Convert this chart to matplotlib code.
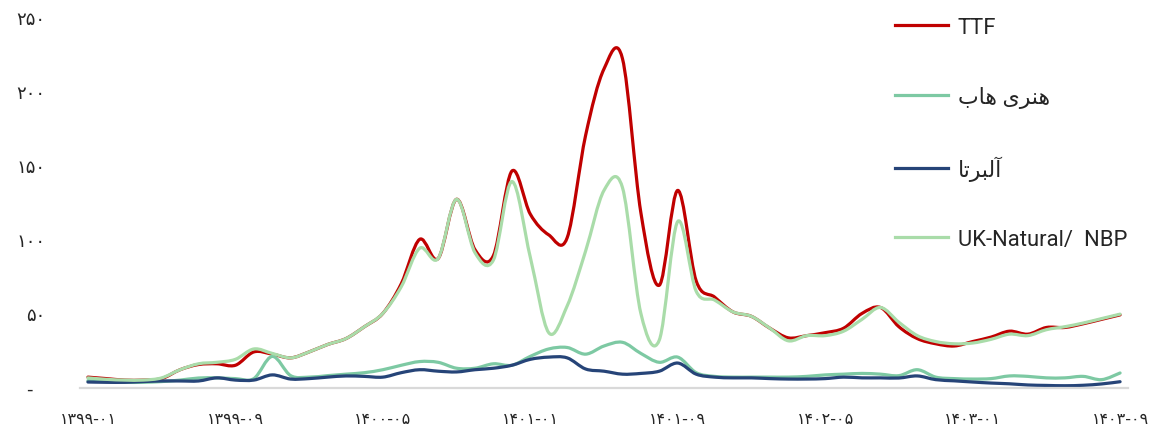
import numpy as np
import matplotlib.pyplot as plt
from matplotlib.path import Path
from matplotlib.patches import PathPatch
from matplotlib.lines import Line2D

# monthly prices, 1399-01 .. 1403-09 (57 months)
ttf = [7, 6, 5, 5, 6, 12, 15.5, 16, 15, 24, 22.5, 20, 24, 29, 33, 41, 50, 70, 100, 87,
       127, 93, 89, 146, 117, 103, 101, 170, 215, 222, 118, 69, 133, 72, 61, 51, 48, 40, 33.5, 35,
       37, 40, 50, 54, 41, 33, 29.5, 28, 31, 34, 38, 36, 40.5, 40.5, 43, 46, 49]
henry_hub = [4.6, 4, 3.5, 3.5, 4, 5, 6.4, 6.5, 6, 6, 21, 8, 7, 8, 9, 10, 12, 15, 17.5, 17,
             13, 13, 16, 15, 21, 26, 27, 22.5, 28, 30.5, 23, 17, 20.5, 10, 7.5, 7, 7, 7, 7, 7.5,
             8.5, 9, 9.5, 9, 8, 12, 7, 6, 5.7, 6, 7.8, 7.5, 6.5, 6.5, 7.5, 5.3, 9.8]
alberta = [3.7, 3.5, 3.5, 4, 4.4, 4.4, 4.4, 6.5, 5, 5, 8.5, 5.7, 6, 7, 7.8, 7.5, 7, 10, 12, 11,
           10.5, 12, 13, 15, 19, 20.5, 20, 12.5, 11, 9, 9.5, 11, 16.5, 9, 7, 6.5, 6.5, 6, 5.7, 5.7,
           6, 7, 6.5, 6.5, 6.4, 7.8, 5.3, 4.5, 3.7, 3, 2.5, 1.7, 1.4, 1.2, 1.5, 2.4, 3.9]
nbp = [6.5, 5.5, 5, 5, 6.5, 12, 16, 17, 19, 26, 23, 20, 24, 29, 33, 41, 50, 68, 94, 87,
       127, 91, 86, 139, 88, 37, 55, 92, 133, 135, 50, 32, 112, 65, 59, 51, 48, 40, 31.5, 35,
       35, 38, 46, 54, 44, 35, 31, 29.5, 30, 32.5, 36, 35, 39, 41, 43.5, 46.5, 49.5]

x_labels = ["۱۳۹۹-۰۱", "۱۳۹۹-۰۹", "۱۴۰۰-۰۵", "۱۴۰۱-۰۱", "۱۴۰۱-۰۹", "۱۴۰۲-۰۵", "۱۴۰۳-۰۱", "۱۴۰۳-۰۹"]
y_ticks = [0, 50, 100, 150, 200, 250]
y_labels = ["-  ", "۵۰", "۱۰۰", "۱۵۰", "۲۰۰", "۲۵۰"]

# (isolated, final, initial, medial) presentation forms for the letters used
FORMS = {
    "ا": ("\ufe8d", "\ufe8e", None, None),
    "آ": ("\ufe81", "\ufe82", None, None),
    "ر": ("\ufead", "\ufeae", None, None),
    "ب": ("\ufe8f", "\ufe90", "\ufe91", "\ufe92"),
    "ت": ("\ufe95", "\ufe96", "\ufe97", "\ufe98"),
    "ل": ("\ufedd", "\ufede", "\ufedf", "\ufee0"),
    "ن": ("\ufee5", "\ufee6", "\ufee7", "\ufee8"),
    "ه": ("\ufee9", "\ufeea", "\ufeeb", "\ufeec"),
    "ی": ("\ufbfc", "\ufbfd", "\ufbfe", "\ufbff"),
}


# matplotlib has no arabic shaping, so pick the joined forms and reverse
def shape(text):
    out = []
    for i, c in enumerate(text):
        if c not in FORMS:
            out.append(c)
            continue
        prev = text[i - 1] if i > 0 else ""
        nxt = text[i + 1] if i + 1 < len(text) else ""
        join_prev = prev in FORMS and FORMS[prev][2] is not None
        join_next = FORMS[c][2] is not None and nxt in FORMS
        if join_prev and join_next:
            out.append(FORMS[c][3])
        elif join_prev:
            out.append(FORMS[c][1])
        elif join_next:
            out.append(FORMS[c][2])
        else:
            out.append(FORMS[c][0])
    return "".join(out[::-1])


labels = ["TTF", shape("هنری هاب") + " ", shape("آلبرتا"), "UK-Natural/  NBP"]
colors = ["#C00000", "#7DC9A3", "#264478", "#A9DCA9"]


# excel style smoothed line as cubic bezier through the points
def smooth_path(y):
    y = np.asarray(y, dtype=float)
    x = np.arange(len(y), dtype=float)
    verts = [(x[0], y[0])]
    codes = [Path.MOVETO]
    n = len(y)
    for i in range(n - 1):
        x0, y0 = x[max(i - 1, 0)], y[max(i - 1, 0)]
        x3, y3 = x[min(i + 2, n - 1)], y[min(i + 2, n - 1)]
        c1 = (x[i] + (x[i + 1] - x0) / 6, y[i] + (y[i + 1] - y0) / 6)
        c2 = (x[i + 1] - (x3 - x[i]) / 6, y[i + 1] - (y3 - y[i]) / 6)
        verts += [c1, c2, (x[i + 1], y[i + 1])]
        codes += [Path.CURVE4] * 3
    return Path(verts, codes)


fig = plt.figure(figsize=(11.54, 4.39), dpi=100)
ax = fig.add_axes([80 / 1154, (439 - 388.5) / 439, 1048 / 1154, 370.5 / 439])

series = [ttf, henry_hub, alberta, nbp]
for s, c in zip(series, colors):
    ax.add_patch(PathPatch(smooth_path(s), fill=False, edgecolor=c, linewidth=2.3,
                           capstyle="round", joinstyle="round"))

ax.set_xlim(-0.43, len(ttf) - 1 + 0.43)
ax.set_ylim(0, 250)
ax.set_xticks(range(0, len(ttf), 8))
ax.set_xticklabels(x_labels, fontsize=11.5, family=["DejaVu Sans"])
ax.set_yticks(y_ticks)
ax.set_yticklabels(y_labels, fontsize=13, family=["DejaVu Sans"])
ax.tick_params(axis="both", length=0, colors="#262626")
ax.tick_params(axis="y", pad=25)
ax.tick_params(axis="x", pad=17)
for side in ["top", "right", "left"]:
    ax.spines[side].set_visible(False)
ax.spines["bottom"].set_color("#D9D9D9")
ax.spines["bottom"].set_linewidth(1.6)

handles = [Line2D([], [], color=c, linewidth=2.3) for c in colors]
leg = fig.legend(handles, labels, loc="upper left", bbox_to_anchor=(895 / 1154, 1 - 18 / 439),
                 frameon=False, borderpad=0, borderaxespad=0, handlelength=2.42,
                 handletextpad=0.45, labelspacing=2.18,
                 prop={"family": ["Roboto", "DejaVu Sans"], "size": 15.8})
for t in leg.get_texts():
    t.set_color("#262626")

plt.savefig("out.png", dpi=100)
